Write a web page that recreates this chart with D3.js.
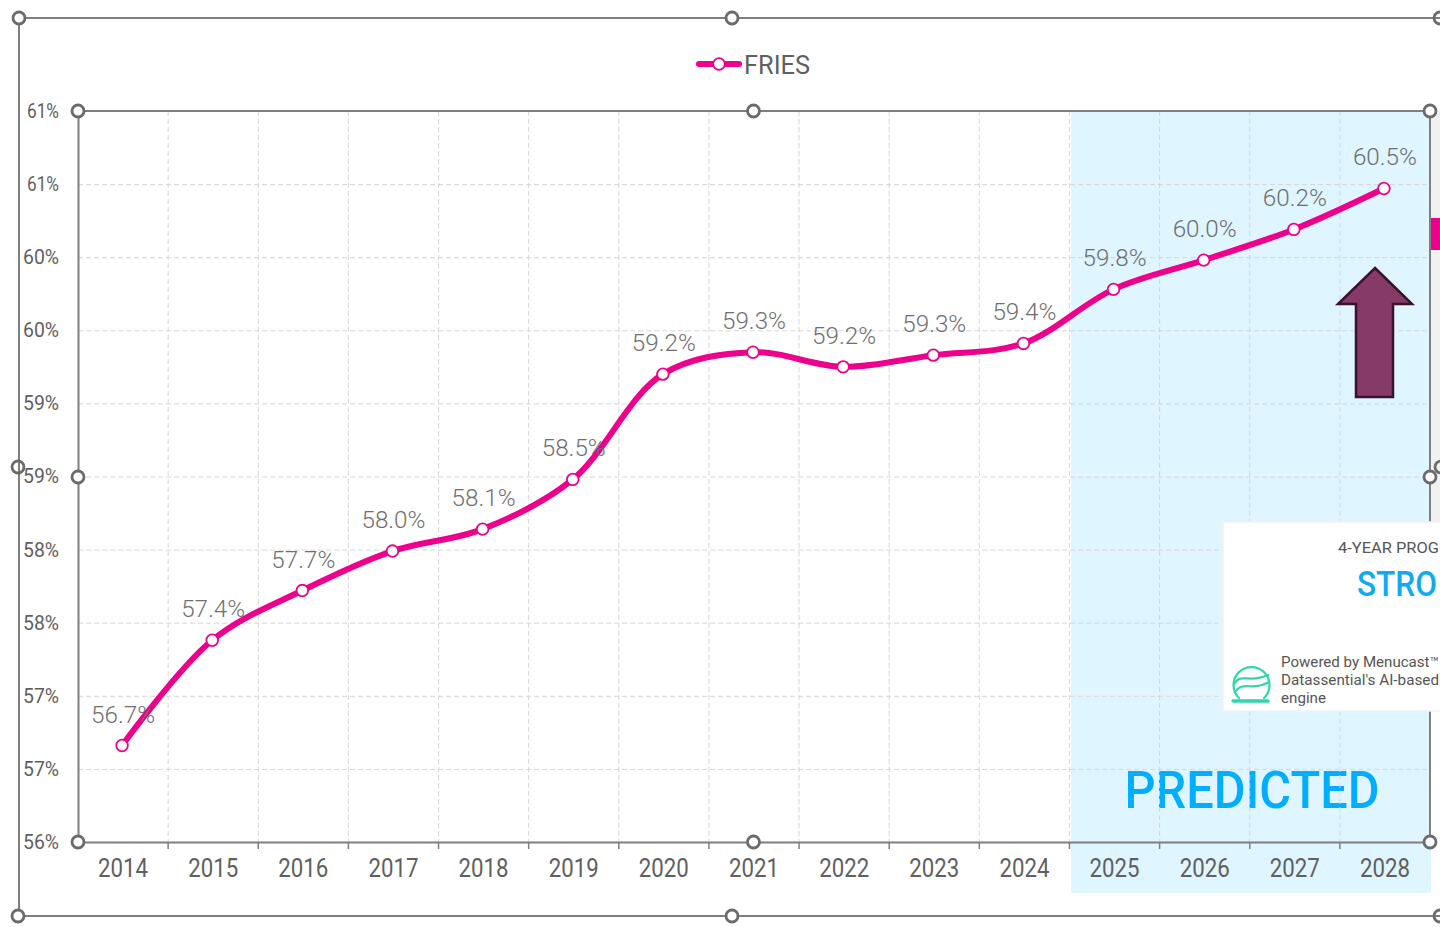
<!DOCTYPE html>
<html>
<head>
<meta charset="utf-8">
<script src="https://cdn.jsdelivr.net/npm/d3@7"></script>
<style>
html,body{margin:0;padding:0;background:#fff;overflow:hidden}
svg{display:block}
text{font-family:Roboto,"Open Sans",sans-serif}
</style>
</head>
<body>
<svg id="chart" width="1440" height="927"></svg>
<script>
const years = ["2014","2015","2016","2017","2018","2019","2020","2021","2022","2023","2024","2025","2026","2027","2028"];
const plotted = [56.66,57.38,57.72,57.99,58.14,58.48,59.2,59.35,59.25,59.33,59.41,59.78,59.98,60.19,60.47];
const valueLabels = ["56.7%","57.4%","57.7%","58.0%","58.1%","58.5%","59.2%","59.3%","59.2%","59.3%","59.4%","59.8%","60.0%","60.2%","60.5%"];
const yTickValues = [56,56.5,57,57.5,58,58.5,59,59.5,60,60.5,61];
const yTickLabels = ["56%","57%","57%","58%","58%","59%","59%","60%","60%","61%","61%"];
const predictedFrom = "2025";
const seriesName = "FRIES";
const cardLines = ["Powered by Menucast™","Datassential's AI-based","engine"];

const PINK="#ec008c", GREY="#7f7f7f", DARK="#5f5f5f";
const pLeft=78,pRight=1430,pTop=111,pBottom=842;
const svg=d3.select("#chart");
const x=d3.scaleBand().domain(years).range([pLeft,pRight]);
const y=d3.scaleLinear().domain([56,61]).range([pBottom,pTop]);

// squeezes Roboto to the narrower width of the reference's face
function fit(sel,w){sel.attr("textLength",w).attr("lengthAdjust","spacingAndGlyphs");}

// grey strip and pink sliver right of the plot
svg.append("rect").attr("x",1431).attr("y",111).attr("width",9).attr("height",411).attr("fill","#f1f1f1");
svg.append("rect").attr("x",1431).attr("y",218).attr("width",9).attr("height",32).attr("fill",PINK);

// predicted band
svg.append("rect").attr("x",x(predictedFrom)+1.5).attr("y",pTop).attr("width",pRight+1-x(predictedFrom)-1.5).attr("height",893-pTop).attr("fill","#dff5ff");
svg.append("text").attr("x",1252).attr("y",808).attr("text-anchor","middle").attr("font-size",52).attr("font-weight",500).attr("fill","#00aeff").text("PREDICTED").call(fit,255);

// grid
const grid=svg.append("g").attr("fill","none").attr("stroke","#d6d6d6").attr("stroke-width",1).attr("stroke-dasharray","5 3");
grid.selectAll("line.h").data(yTickValues.slice(1,-1)).join("line").attr("class","h").attr("x1",pLeft).attr("x2",pRight).attr("y1",d=>y(d)+.5).attr("y2",d=>y(d)+.5);
grid.selectAll("line.v").data(years.slice(1)).join("line").attr("class","v").attr("x1",d=>x(d)).attr("x2",d=>x(d)).attr("y1",pTop).attr("y2",pBottom);

// axes
const xAxis=svg.append("g").attr("transform",`translate(0,${pBottom})`)
  .call(d3.axisBottom(x).tickSize(0).tickPadding(17));
xAxis.selectAll("text").attr("font-size",25).attr("fill",DARK).call(fit,50);
xAxis.select(".domain").attr("stroke",GREY).attr("stroke-width",2);
svg.append("g").selectAll("line").data(years.slice(1)).join("line")
  .attr("x1",d=>x(d)).attr("x2",d=>x(d)).attr("y1",pBottom).attr("y2",pBottom+7).attr("stroke",GREY).attr("stroke-width",1.5);

const yAxis=svg.append("g").attr("transform",`translate(${pLeft},0)`)
  .call(d3.axisLeft(y).tickValues(yTickValues).tickSize(0).tickPadding(19).tickFormat((d,i)=>yTickLabels[i]));
yAxis.selectAll("text").attr("font-size",20).attr("fill",DARK)
  .each(function(d,i){d3.select(this).call(fit,yTickLabels[i]==="61%"?32:36);});
yAxis.select(".domain").attr("stroke",GREY).attr("stroke-width",2);
svg.append("path").attr("d",`M${pLeft},${pTop}H${pRight}V${pBottom}`).attr("fill","none").attr("stroke",GREY).attr("stroke-width",2);

// series
const cx=(d,i)=>x(years[i])+x.bandwidth()/2-1;
const line=d3.line().x(cx).y(d=>y(d)).curve(d3.curveCatmullRom.alpha(0.5));
svg.append("path").datum(plotted).attr("d",line).attr("fill","none").attr("stroke",PINK).attr("stroke-width",6).attr("stroke-linecap","round");
svg.append("g").selectAll("circle").data(plotted).join("circle").attr("cx",cx).attr("cy",d=>y(d)).attr("r",5.8)
  .attr("fill","#fff").attr("stroke",PINK).attr("stroke-width",1.8);
svg.append("g").selectAll("text").data(plotted).join("text")
  .attr("x",(d,i)=>cx(d,i)+1).attr("y",d=>y(d)-23).attr("text-anchor","middle")
  .attr("font-size",24).attr("font-weight",300).attr("fill","#6f6f6f").text((d,i)=>valueLabels[i]).call(fit,64);

// legend
svg.append("line").attr("x1",699).attr("x2",739).attr("y1",64).attr("y2",64).attr("stroke",PINK).attr("stroke-width",6).attr("stroke-linecap","round");
svg.append("circle").attr("cx",719).attr("cy",64).attr("r",5.8).attr("fill","#fff").attr("stroke",PINK).attr("stroke-width",1.8);
svg.append("text").attr("x",744).attr("y",74).attr("font-size",26).attr("fill",DARK).text(seriesName).call(fit,66);

// arrow
svg.append("path").attr("d","M1375,268L1412,304H1393V397H1356V304H1338Z").attr("fill","#863a68").attr("stroke","#3a1230").attr("stroke-width",2.5);

// card (the reference shows only what fits inside the picture)
svg.append("rect").attr("x",1223).attr("y",522).attr("width",220).attr("height",189).attr("fill","#fff").attr("stroke","#f2f2f2").attr("stroke-width",1.5);
svg.append("text").attr("x",1338).attr("y",553).attr("font-size",14.5).attr("fill","#555").text("4-YEAR PROG").call(fit,101);
svg.append("text").attr("x",1357).attr("y",596).attr("font-size",35).attr("font-weight",500).attr("fill","#12a9ee").text("STRO").call(fit,80);
svg.append("g").selectAll("text").data(cardLines).join("text").attr("x",1281).attr("y",(d,i)=>667+i*18)
  .attr("font-size",14.5).attr("fill","#555").text(d=>d).each(function(d,i){d3.select(this).call(fit,[158,158,45][i]);});
const icon=svg.append("g").attr("fill","none").attr("stroke","#2ed8a8").attr("stroke-width",2.2).attr("stroke-linecap","round");
icon.append("path").attr("d","M1239,698A18,18 0 1 1 1264,698");
icon.append("path").attr("d","M1234,684C1241,672 1249,684 1268,675");
icon.append("path").attr("d","M1235,692C1243,680 1252,692 1269,682");
icon.append("path").attr("d","M1233,701H1268").attr("stroke-width",3.5);

// selection frames
const frame=svg.append("g").attr("fill","none").attr("stroke",GREY).attr("stroke-width",2);
frame.append("path").attr("d","M1440,18H19V916H1440");
const handles=[[19,18],[732,18],[1440,18],[18,467],[1441,467],[18,916],[732,916],[1440,916],
  [78,111],[753.5,111],[1430,111],[78,477],[1430,477],[78,842],[753.5,842],[1430,842]];
svg.append("g").selectAll("circle").data(handles).join("circle").attr("cx",d=>d[0]).attr("cy",d=>d[1]).attr("r",6)
  .attr("fill",d=>(d[0]===18&&d[1]===467)||d[0]>=1440?"none":"#fff").attr("stroke","#6b6b6b").attr("stroke-width",2.8);
</script>
</body>
</html>
